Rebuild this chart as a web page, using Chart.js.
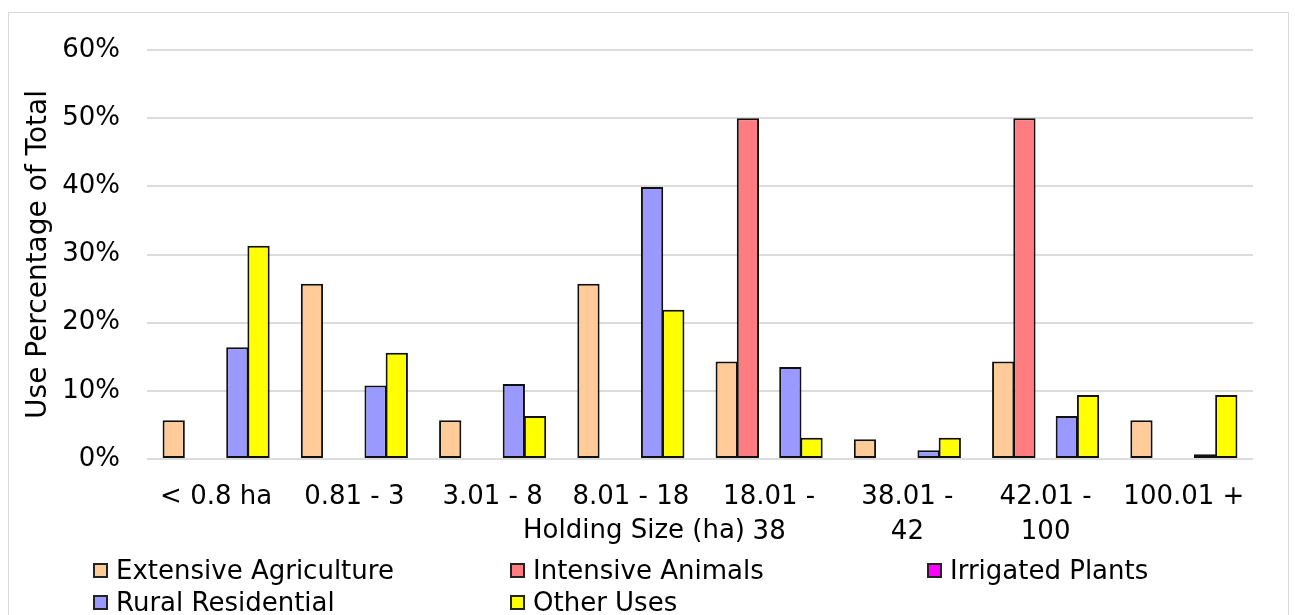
<!DOCTYPE html>
<html lang="en">
<head>
    <meta charset="UTF-8">
    <title>Use Percentage of Total by Holding Size</title>
    <script src="https://cdn.jsdelivr.net/npm/chart.js"></script>
    <style>
        body { margin: 0; background: #fff; font-family: 'DejaVu Sans', Verdana, sans-serif; }
        .wrap { position: relative; width: 1295px; height: 615px; overflow: hidden; }
        .frame { position: absolute; left: 8px; top: 12px; width: 1281px; height: 640px; border: 1px solid #d9d9d9; box-sizing: border-box; }
        canvas { position: absolute; left: 0; top: 0; }
        #legend { position: absolute; left: 93px; top: 554px; display: grid; grid-template-columns: 417px 417px 417px; }
        .item { display: flex; align-items: center; height: 32px; font-size: 26px; color: #000; }
        .box { width: 15px; height: 15px; border: 2px solid #222; box-sizing: border-box; margin-right: 8px; }
    </style>
</head>
<body>
    <div class="wrap">
        <div class="frame"></div>
        <canvas id="useChart" width="1295" height="615"></canvas>
        <div id="legend"></div>
    </div>

    <script>
        // --- DATA ---
        const categories = ['< 0.8 ha', '0.81 - 3', '3.01 - 8', '8.01 - 18', ['18.01 -', '38'], ['38.01 -', '42'], ['42.01 -', '100'], '100.01 +'];
        const extensiveAgriculture = [5.7, 25.7, 5.7, 25.7, 14.3, 2.9, 14.3, 5.7];
        const intensiveAnimals = [0, 0, 0, 0, 50, 0, 50, 0];
        const irrigatedPlants = [0, 0, 0, 0, 0, 0, 0, 0];
        const ruralResidential = [16.4, 10.8, 11.0, 39.9, 13.5, 1.3, 6.3, 0.7];
        const otherUses = [31.3, 15.6, 6.3, 21.9, 3.1, 3.1, 9.4, 9.4];
        const yTicks = [0, 10, 20, 30, 40, 50, 60];

        const series = [
            { label: 'Extensive Agriculture', data: extensiveAgriculture, color: '#FFCC99' },
            { label: 'Intensive Animals', data: intensiveAnimals, color: '#FF7C80' },
            { label: 'Irrigated Plants', data: irrigatedPlants, color: '#FF00FF' },
            { label: 'Rural Residential', data: ruralResidential, color: '#9999FF' },
            { label: 'Other Uses', data: otherUses, color: '#FFFF00' }
        ];

        Chart.defaults.font.family = "'DejaVu Sans', Verdana, sans-serif";
        Chart.defaults.color = '#000';

        // x axis title sits left of centre, as in the original
        const xTitle = {
            id: 'xTitle',
            afterDraw(chart) {
                const ctx = chart.ctx;
                ctx.save();
                ctx.font = "26px 'DejaVu Sans', Verdana, sans-serif";
                ctx.fillStyle = '#000';
                ctx.textAlign = 'center';
                ctx.textBaseline = 'middle';
                ctx.fillText('Holding Size (ha)', 634, 531);
                ctx.restore();
            }
        };

        const chart = new Chart(document.getElementById('useChart'), {
            type: 'bar',
            data: {
                labels: categories,
                datasets: series.map(s => ({
                    label: s.label,
                    data: s.data,
                    backgroundColor: s.color,
                    borderColor: '#111',
                    borderWidth: 2,
                    borderSkipped: false,
                    inflateAmount: 0,
                    categoryPercentage: 0.767,
                    barPercentage: 1.05
                }))
            },
            options: {
                responsive: false,
                animation: false,
                layout: { padding: { top: 50, right: 42, left: 0, bottom: 0 } },
                plugins: { legend: { display: false }, tooltip: { enabled: false } },
                scales: {
                    x: {
                        grid: { display: false },
                        border: { display: false },
                        ticks: { font: { size: 26, lineHeight: 1.35 }, padding: 13, maxRotation: 0, autoSkip: false },
                        afterFit: scale => { scale.height = 156; }
                    },
                    y: {
                        min: 0,
                        max: 60,
                        afterBuildTicks: scale => { scale.ticks = yTicks.map(v => ({ value: v })); },
                        grid: { color: '#dcdcdc', lineWidth: 2, drawTicks: false },
                        border: { display: false },
                        ticks: { font: { size: 26 }, padding: 27, callback: v => v + '%' },
                        title: { display: true, text: 'Use Percentage of Total', font: { size: 28 }, padding: { top: 22 } },
                        afterFit: scale => { scale.width = 147; }
                    }
                }
            },
            plugins: [xTitle]
        });

        // legend laid out in three columns like the original
        const legend = document.getElementById('legend');
        chart.data.datasets.forEach(ds => {
            legend.innerHTML += `<div class="item"><span class="box" style="background:${ds.backgroundColor}"></span>${ds.label}</div>`;
        });
    </script>
</body>
</html>
